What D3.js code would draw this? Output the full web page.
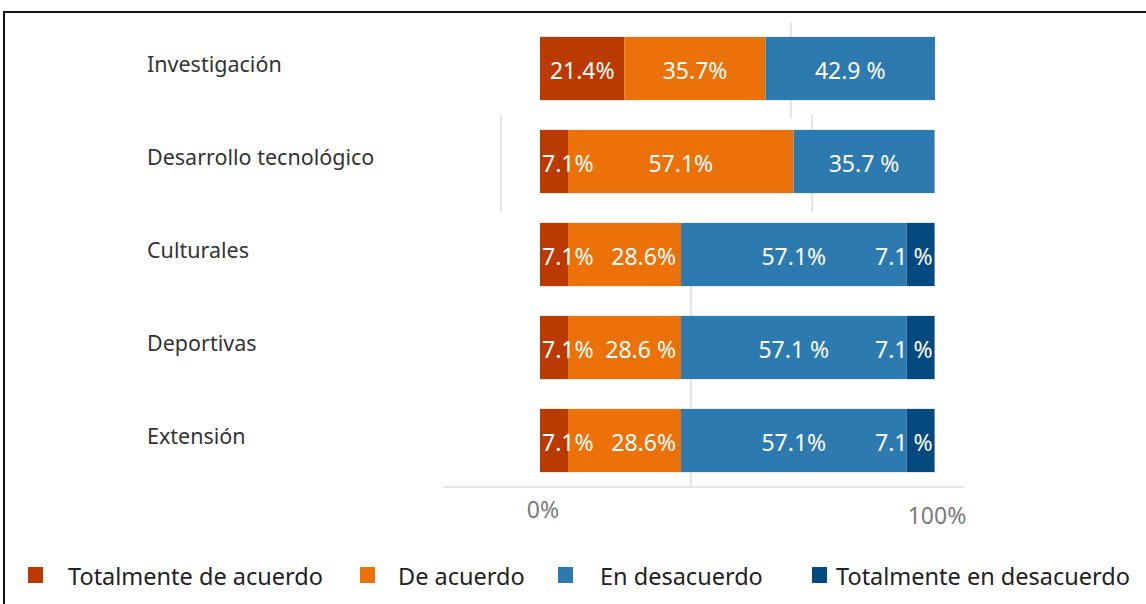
<!DOCTYPE html>
<html>
<head>
<meta charset="utf-8">
<script src="https://cdn.jsdelivr.net/npm/d3@7"></script>
<style>
  html, body { margin: 0; padding: 0; background: #fff; }
  svg { display: block; }
  text { font-family: "Noto Sans", "Open Sans", sans-serif; }
</style>
</head>
<body>
<svg id="chart" width="1146" height="604"></svg>
<script>
// Categories (top to bottom) and response levels
const categories = ["Investigación", "Desarrollo tecnológico", "Culturales", "Deportivas", "Extensión"];
const levels = ["Totalmente de acuerdo", "De acuerdo", "En desacuerdo", "Totalmente en desacuerdo"];
const colors = ["#bb3a02", "#eb7108", "#2d7ab1", "#044a81"];

// Percentages per level, one entry per category
const totalmenteDeAcuerdo = [21.4, 7.1, 7.1, 7.1, 7.1];
const deAcuerdo = [35.7, 57.1, 28.6, 28.6, 28.6];
const enDesacuerdo = [42.9, 35.7, 57.1, 57.1, 57.1];
const totalmenteEnDesacuerdo = [0, 0, 7.1, 7.1, 7.1];

// Printed labels (spacing as written in the source)
const labelText = [
  ["21.4%", "35.7%", "42.9 %", ""],
  ["7.1%", "57.1%", "35.7 %", ""],
  ["7.1%", "28.6%", "57.1%", "7.1 %"],
  ["7.1%", "28.6 %", "57.1 %", "7.1 %"],
  ["7.1%", "28.6%", "57.1%", "7.1 %"]
];

const axisTicks = [0, 100];
const tickLabels = ["0%", "100%"];

// Faint vertical guide lines: [percent position, first row, last row]
const guides = [[38.2, 2, 4], [63.5, 0, 0], [-9.9, 1, 1], [68.9, 1, 1]];

const svg = d3.select("#chart");
const W = 1146, H = 604;

// Outer frame
svg.append("path")
  .attr("d", `M4,${H + 5}V12H${W + 5}`)
  .attr("fill", "none").attr("stroke", "#111").attr("stroke-width", 2);

const x = d3.scaleLinear().domain([0, 100]).range([540, 935]);
const y = d3.scaleBand().domain(categories).range([22, 487])
  .paddingInner(0.32).paddingOuter(0.16);

const series = [totalmenteDeAcuerdo, deAcuerdo, enDesacuerdo, totalmenteEnDesacuerdo];
const rows = categories.map((c, i) => {
  const o = { category: c };
  levels.forEach((l, j) => o[l] = series[j][i]);
  return o;
});
const stacked = d3.stack().keys(levels)(rows);

// Guide lines
guides.forEach(([p, r0, r1]) => {
  const top = r0 === 2 ? y(categories[r0]) : y(categories[r0]) - y.step() * 0.16;
  const bottom = r1 === 4 ? 487 : y(categories[r1]) + y.bandwidth() + y.step() * 0.2;
  svg.append("line")
    .attr("x1", x(p)).attr("x2", x(p))
    .attr("y1", top).attr("y2", bottom)
    .attr("stroke", "#e4e4e4").attr("stroke-width", 2);
});

// Axis baseline
svg.append("line")
  .attr("x1", x(-24.5)).attr("x2", x(107.5))
  .attr("y1", 487).attr("y2", 487)
  .attr("stroke", "#e6e6e6").attr("stroke-width", 2);

// Category labels
svg.append("g").selectAll("text").data(categories).join("text")
  .attr("x", 147)
  .attr("y", d => y(d) + y.bandwidth() / 2 - 5)
  .attr("dominant-baseline", "central")
  .attr("font-size", 21.5)
  .attr("fill", "#333")
  .text(d => d);

// Bars
const groups = svg.append("g").selectAll("g").data(stacked).join("g")
  .attr("fill", (d, i) => colors[i]);
groups.selectAll("rect").data(d => d).join("rect")
  .attr("x", d => x(d[0]))
  .attr("width", d => Math.max(0, x(d[1]) - x(d[0])))
  .attr("y", d => y(d.data.category))
  .attr("height", y.bandwidth());

// Value labels (drawn after all bars so they sit on top)
const lab = svg.append("g");
stacked.forEach((s, j) => {
  s.forEach((d, i) => {
    const txt = labelText[i][j];
    if (!txt || d[1] - d[0] <= 0) return;
    const w = x(d[1]) - x(d[0]);
    const prevNarrow = j > 0 && (x(s[i][0]) - x(stacked[j - 1][i][0])) < 70;
    let px, anchor;
    if (w > 70 && !(prevNarrow && w < 160)) { px = (x(d[0]) + x(d[1])) / 2; anchor = "middle"; }
    else if (w > 70) { px = x(d[1]) - 5; anchor = "end"; }
    else if (j === 0) { px = x(d[0]) + 2; anchor = "start"; }
    else { px = x(d[1]) - 2; anchor = "end"; }
    lab.append("text")
      .attr("x", px)
      .attr("y", y(d.data.category) + y.bandwidth() / 2 + 1)
      .attr("text-anchor", anchor)
      .attr("dominant-baseline", "central")
      .attr("font-size", 23)
      .attr("fill", "#fff")
      .text(txt);
  });
});

// Axis tick labels
svg.append("g").selectAll("text").data(axisTicks).join("text")
  .attr("x", d => x(d) + (d === 0 ? 3 : 2))
  .attr("y", (d, i) => i === 0 ? 509 : 515)
  .attr("text-anchor", "middle")
  .attr("dominant-baseline", "central")
  .attr("font-size", 23)
  .attr("fill", "#7a7a7a")
  .text((d, i) => tickLabels[i]);

// Legend
const legendX = [28, 360, 558, 812];
const leg = svg.append("g").selectAll("g").data(levels).join("g")
  .attr("transform", (d, i) => `translate(${legendX[i]},575)`);
leg.append("rect")
  .attr("x", 0).attr("y", -8).attr("width", 15).attr("height", 16)
  .attr("fill", (d, i) => colors[i]);
leg.append("text")
  .attr("x", (d, i) => [40, 38, 42, 24][i])
  .attr("y", 1)
  .attr("dominant-baseline", "central")
  .attr("font-size", 23.5)
  .attr("fill", "#222")
  .text(d => d);
</script>
</body>
</html>
